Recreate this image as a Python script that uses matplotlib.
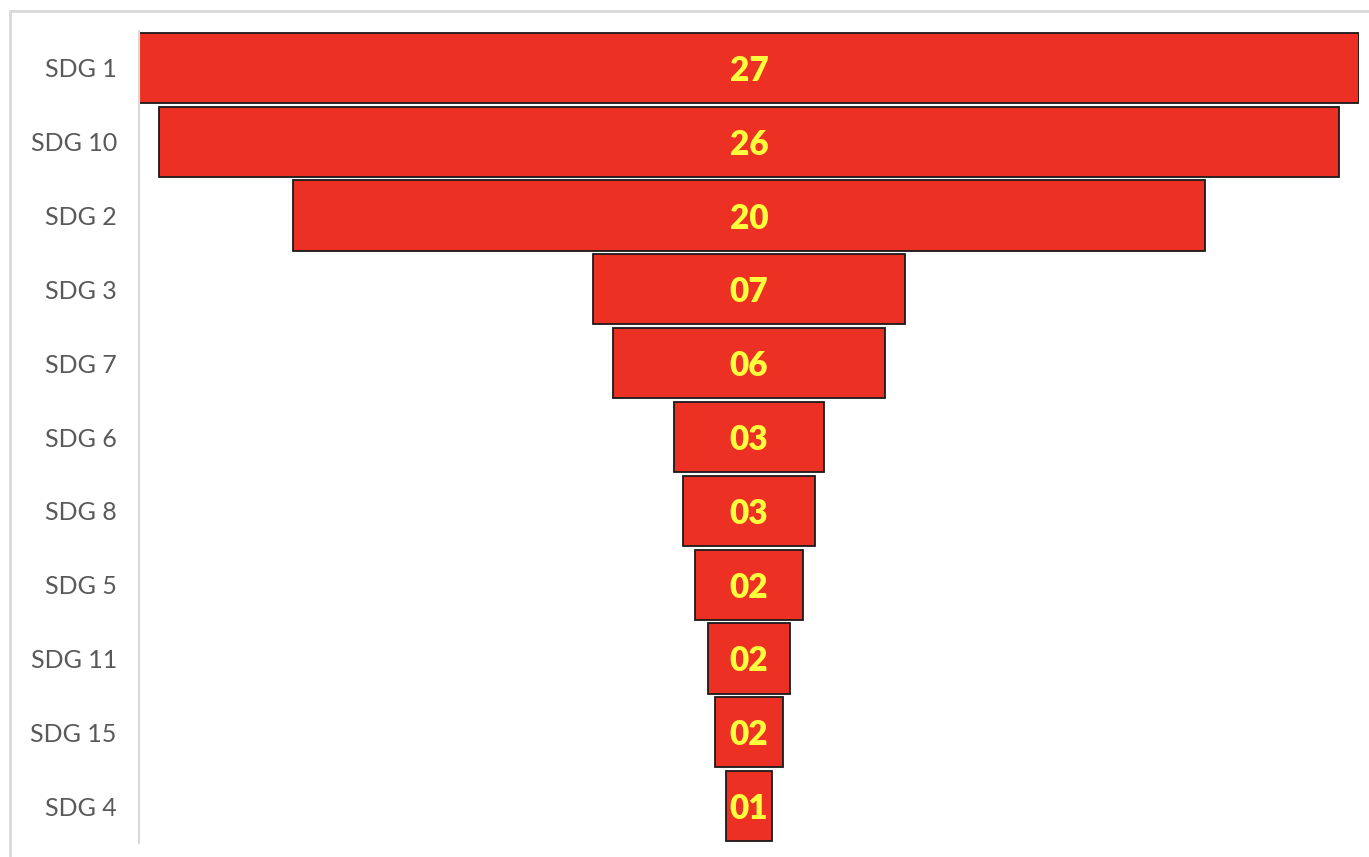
"""
Funnel chart of SDG counts (horizontal bars centred on zero).
"""

import matplotlib.pyplot as plt
from matplotlib.patches import Rectangle

categories = ["SDG 1", "SDG 10", "SDG 2", "SDG 3", "SDG 7", "SDG 6",
              "SDG 8", "SDG 5", "SDG 11", "SDG 15", "SDG 4"]
values = [27.0, 26.1, 20.2, 6.9, 6.0, 3.3, 2.9, 2.4, 1.8, 1.5, 1.0]
value_labels = ["27", "26", "20", "07", "06", "03", "03", "02", "02", "02", "01"]

plt.rcParams['font.family'] = ['Lato', 'DejaVu Sans']

fig = plt.figure(figsize=(13.69, 8.57), dpi=100)

# light grey frame round the chart area
fig.patches.append(Rectangle((10 / 1369, -0.01), 1.0, (857 - 11) / 857 + 0.01,
                             transform=fig.transFigure, fill=False,
                             edgecolor='#d9d9d9', linewidth=2))

ax = fig.add_axes([139 / 1369, 14 / 857, 1220 / 1369, 812 / 857])

lefts = [-v / 2 for v in values]
ypos = range(len(categories))
ax.barh(ypos, values, left=lefts, height=0.95, color='#ec3124',
        edgecolor='#1a1a1a', linewidth=1.3)

for y, lab in zip(ypos, value_labels):
    ax.text(0, y, lab, ha='center', va='center_baseline', color='#ffff3d',
            fontsize=24, fontweight='heavy')

ax.set_xlim(-values[0] / 2, values[0] / 2)
ax.set_ylim(len(categories) - 0.5, -0.5)
ax.set_yticks(list(ypos))
ax.set_yticklabels(categories, fontsize=18, color='#595959')
ax.tick_params(axis='y', length=0, pad=16)
ax.set_xticks([])

for side in ['top', 'right', 'bottom']:
    ax.spines[side].set_visible(False)
ax.spines['left'].set_color('#d9d9d9')
ax.spines['left'].set_linewidth(1.5)

fig.savefig('out.png', dpi=100)
